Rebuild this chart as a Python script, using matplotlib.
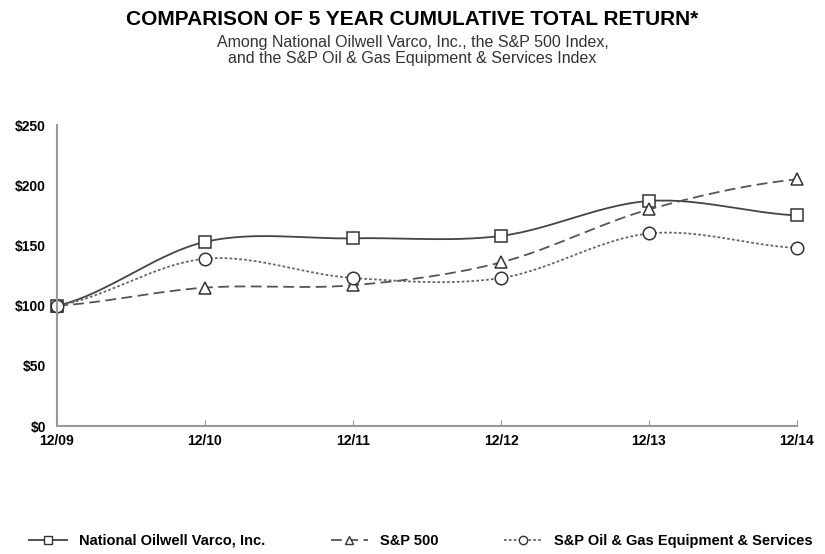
import numpy as np
import matplotlib
matplotlib.use('Agg')
import matplotlib.pyplot as plt
from matplotlib.lines import Line2D

plt.rcParams['font.family'] = ['Liberation Sans', 'DejaVu Sans']

# Data
years = ['12/09', '12/10', '12/11', '12/12', '12/13', '12/14']
nov = [100, 153, 156, 158, 187, 175]
sp500 = [100, 115, 117, 136, 180, 205]
oilgas = [100, 139, 123, 123, 160, 148]


def smooth(xs, ys, n=30):
    # Catmull-Rom curve through the points (like Excel's smoothed line)
    xs = np.asarray(xs, float)
    ys = np.asarray(ys, float)
    px = np.concatenate([[2 * xs[0] - xs[1]], xs, [2 * xs[-1] - xs[-2]]])
    py = np.concatenate([[ys[0]], ys, [ys[-1]]])
    outx, outy = [], []
    t = np.linspace(0, 1, n)
    for i in range(1, len(px) - 2):
        for p, out in ((px, outx), (py, outy)):
            p0, p1, p2, p3 = p[i - 1], p[i], p[i + 1], p[i + 2]
            out.extend(0.5 * ((2 * p1) + (-p0 + p2) * t
                              + (2 * p0 - 5 * p1 + 4 * p2 - p3) * t ** 2
                              + (-p0 + 3 * p1 - 3 * p2 + p3) * t ** 3))
    return outx, outy


fig = plt.figure(figsize=(8.25, 5.54), dpi=100)
ax = fig.add_axes([0.069, 0.231, 0.897, 0.543])

x = np.arange(len(years))
series = [
    (nov, '-', 's', 'National Oilwell Varco, Inc.', '#444444'),
    (sp500, (0, (6, 3)), '^', 'S&P 500', '#555555'),
    (oilgas, (0, (1.5, 1.2)), 'o', 'S&P Oil & Gas Equipment & Services', '#666666'),
]
handles = []
for vals, ls, mk, lab, col in series:
    sx, sy = smooth(x, vals)
    ax.plot(sx, sy, linestyle=ls, color=col, lw=1.3, clip_on=False)
    ax.plot(x, vals, linestyle='none', marker=mk, markersize=9, clip_on=False,
            markerfacecolor='white', markeredgecolor='#333333', markeredgewidth=1.1)
    handles.append(Line2D([], [], linestyle=ls, color=col, lw=1.3, marker=mk,
                          markersize=6, markerfacecolor='white',
                          markeredgecolor='#333333', label=lab))

ax.set_xlim(0, len(years) - 1)
ax.set_ylim(0, 250)
ax.set_xticks(x)
ax.set_xticklabels(years, fontweight='bold', fontsize=10)
ax.set_yticks(range(0, 251, 50))
ax.set_yticklabels(['$' + str(v) for v in range(0, 251, 50)], fontweight='bold', fontsize=10)
for s in ['top', 'right']:
    ax.spines[s].set_visible(False)
for s in ['left', 'bottom']:
    ax.spines[s].set_color('#999999')
    ax.spines[s].set_linewidth(1.5)
ax.tick_params(axis='x', direction='in', length=4, color='#999999', pad=6)
ax.tick_params(axis='y', length=0, pad=8)

fig.text(0.5, 0.965, 'COMPARISON OF 5 YEAR CUMULATIVE TOTAL RETURN*',
         ha='center', va='center', fontsize=15, fontweight='bold')
fig.text(0.5, 0.924, 'Among National Oilwell Varco, Inc., the S&P 500 Index,',
         ha='center', va='center', fontsize=11.5, color='#333333')
fig.text(0.5, 0.895, 'and the S&P Oil & Gas Equipment & Services Index',
         ha='center', va='center', fontsize=11.5, color='#333333')

fig.legend(handles=handles, loc='center', bbox_to_anchor=(0.51, 0.024), ncol=3,
           frameon=False, handlelength=2.6, columnspacing=4.5,
           prop={'weight': 'bold', 'size': 10.5})

fig.savefig('out.png', dpi=100)
